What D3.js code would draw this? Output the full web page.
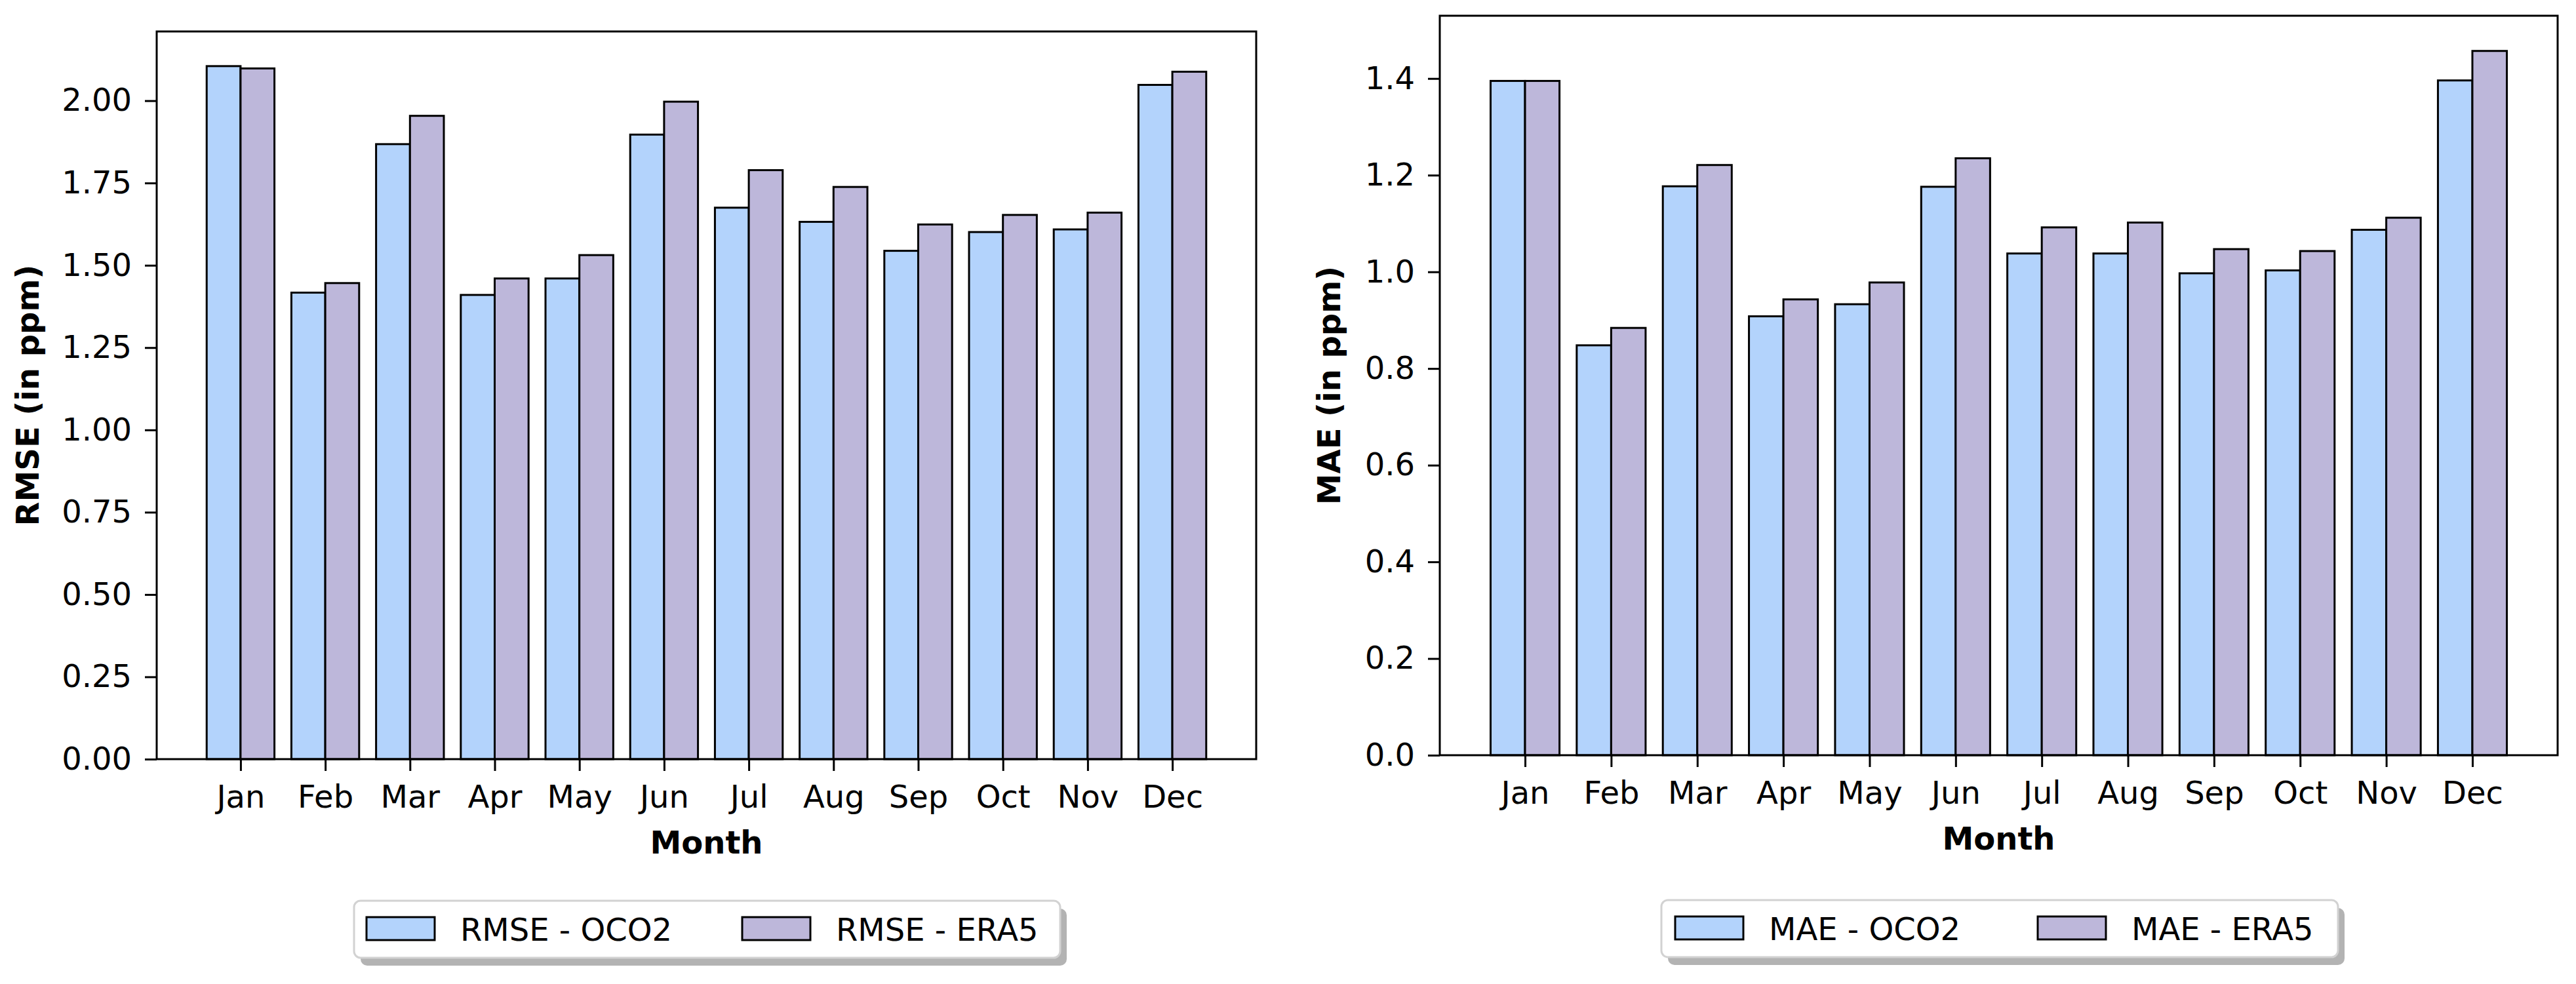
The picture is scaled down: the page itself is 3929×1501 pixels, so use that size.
<!DOCTYPE html>
<html>
<head>
<meta charset="utf-8">
<script src="https://cdn.jsdelivr.net/npm/d3@7"></script>
<style>
  html, body { margin: 0; padding: 0; background: #ffffff; }
  svg { display: block; }
  text { font-family: "DejaVu Sans", sans-serif; fill: #000; }
</style>
</head>
<body>
<svg id="chart" width="3929" height="1501"></svg>
<script>
// ---------------- data ----------------
const months = ["Jan","Feb","Mar","Apr","May","Jun","Jul","Aug","Sep","Oct","Nov","Dec"];

const rmseOCO2 = [2.105, 1.417, 1.868, 1.410, 1.460, 1.897, 1.675, 1.632, 1.544, 1.601, 1.609, 2.048];
const rmseERA5 = [2.098, 1.446, 1.954, 1.460, 1.531, 1.997, 1.789, 1.738, 1.624, 1.653, 1.660, 2.088];

const maeOCO2 = [1.395, 0.848, 1.177, 0.908, 0.933, 1.176, 1.038, 1.038, 0.997, 1.003, 1.087, 1.396];
const maeERA5 = [1.395, 0.884, 1.221, 0.943, 0.978, 1.235, 1.092, 1.102, 1.047, 1.043, 1.112, 1.457];

const rmseTicks = [0, 0.25, 0.5, 0.75, 1.0, 1.25, 1.5, 1.75, 2.0];
const maeTicks = [0, 0.2, 0.4, 0.6, 0.8, 1.0, 1.2, 1.4];

const seriesNames = {
  rmse: ["RMSE - OCO2", "RMSE - ERA5"],
  mae: ["MAE - OCO2", "MAE - ERA5"]
};

const colorOCO2 = "#b3d3fc";
const colorERA5 = "#bdb7da";

// ---------------- drawing ----------------
const svg = d3.select("#chart");
const FONT = 48;
const barW = 0.4;

function panel(cfg) {
  const g = svg.append("g");
  const x = d3.scaleLinear().domain([-0.99, 11.99]).range([cfg.x0, cfg.x1]);
  const ymax = d3.max(cfg.a.concat(cfg.b)) * 1.05;
  const y = d3.scaleLinear().domain([0, ymax]).range([cfg.y1, cfg.y0]);

  // bars
  const data = months.map((m, i) => ({ i, a: cfg.a[i], b: cfg.b[i] }));
  g.selectAll("rect.a").data(data).enter().append("rect")
    .attr("x", d => x(d.i - barW)).attr("width", d => x(d.i) - x(d.i - barW))
    .attr("y", d => y(d.a)).attr("height", d => y(0) - y(d.a))
    .attr("fill", colorOCO2).attr("stroke", "#000").attr("stroke-width", 3);
  g.selectAll("rect.b").data(data).enter().append("rect")
    .attr("x", d => x(d.i)).attr("width", d => x(d.i + barW) - x(d.i))
    .attr("y", d => y(d.b)).attr("height", d => y(0) - y(d.b))
    .attr("fill", colorERA5).attr("stroke", "#000").attr("stroke-width", 3);

  // frame
  g.append("rect")
    .attr("x", cfg.x0).attr("y", cfg.y0)
    .attr("width", cfg.x1 - cfg.x0).attr("height", cfg.y1 - cfg.y0)
    .attr("fill", "none").attr("stroke", "#000").attr("stroke-width", 3);

  // x axis
  const xa = g.append("g").attr("transform", `translate(0,${cfg.y1})`)
    .call(d3.axisBottom(x).tickValues(d3.range(12)).tickFormat(i => months[i])
      .tickSize(18).tickPadding(22));
  xa.select(".domain").remove();
  xa.selectAll("line").attr("stroke", "#000").attr("stroke-width", 3);
  xa.selectAll("text").style("font-size", FONT + "px").style("font-family", "DejaVu Sans").attr("fill", "#000");

  // y axis
  const ya = g.append("g").attr("transform", `translate(${cfg.x0},0)`)
    .call(d3.axisLeft(y).tickValues(cfg.ticks).tickFormat(d3.format(cfg.fmt))
      .tickSize(18).tickPadding(20));
  ya.select(".domain").remove();
  ya.selectAll("line").attr("stroke", "#000").attr("stroke-width", 3);
  ya.selectAll("text").style("font-size", FONT + "px").style("font-family", "DejaVu Sans").attr("fill", "#000");

  // axis labels
  g.append("text")
    .attr("x", (cfg.x0 + cfg.x1) / 2).attr("y", cfg.y1 + 144)
    .attr("text-anchor", "middle").style("font-size", FONT + "px").style("font-weight", "bold")
    .text("Month");
  g.append("text")
    .attr("transform", `translate(${cfg.ylx},${(cfg.y0 + cfg.y1) / 2}) rotate(-90)`)
    .attr("text-anchor", "middle").attr("dy", "0.36em")
    .style("font-size", FONT + "px").style("font-weight", "bold")
    .text(cfg.ylabel);

  // legend
  const L = cfg.legend;
  const lg = g.append("g");
  lg.append("rect").attr("x", L.x + 10).attr("y", L.y + 12).attr("width", L.w).attr("height", L.h)
    .attr("rx", 10).attr("fill", "#8a8a8a").attr("opacity", 0.65);
  lg.append("rect").attr("x", L.x).attr("y", L.y).attr("width", L.w).attr("height", L.h)
    .attr("rx", 10).attr("fill", "#fff").attr("stroke", "#d2d2d2").attr("stroke-width", 3);
  const items = [
    { name: cfg.names[0], color: colorOCO2, px: L.p1 },
    { name: cfg.names[1], color: colorERA5, px: L.p2 }
  ];
  lg.selectAll("rect.patch").data(items).enter().append("rect")
    .attr("x", d => d.px).attr("y", L.y + 25).attr("width", 104).attr("height", 35)
    .attr("fill", d => d.color).attr("stroke", "#000").attr("stroke-width", 3);
  lg.selectAll("text.lt").data(items).enter().append("text")
    .attr("x", d => d.px + 143).attr("y", L.y + 61)
    .style("font-size", FONT + "px")
    .text(d => d.name);
}

panel({
  x0: 239, x1: 1916, y0: 48, y1: 1158,
  a: rmseOCO2, b: rmseERA5, ticks: rmseTicks, fmt: ".2f",
  ylabel: "RMSE (in ppm)", ylx: 42, names: seriesNames.rmse,
  legend: { x: 540, y: 1374, w: 1077, h: 87, p1: 559, p2: 1132 }
});

panel({
  x0: 2196, x1: 3901, y0: 24, y1: 1152,
  a: maeOCO2, b: maeERA5, ticks: maeTicks, fmt: ".1f",
  ylabel: "MAE (in ppm)", ylx: 2027, names: seriesNames.mae,
  legend: { x: 2534, y: 1373, w: 1032, h: 87, p1: 2555, p2: 3108 }
});
</script>
</body>
</html>
